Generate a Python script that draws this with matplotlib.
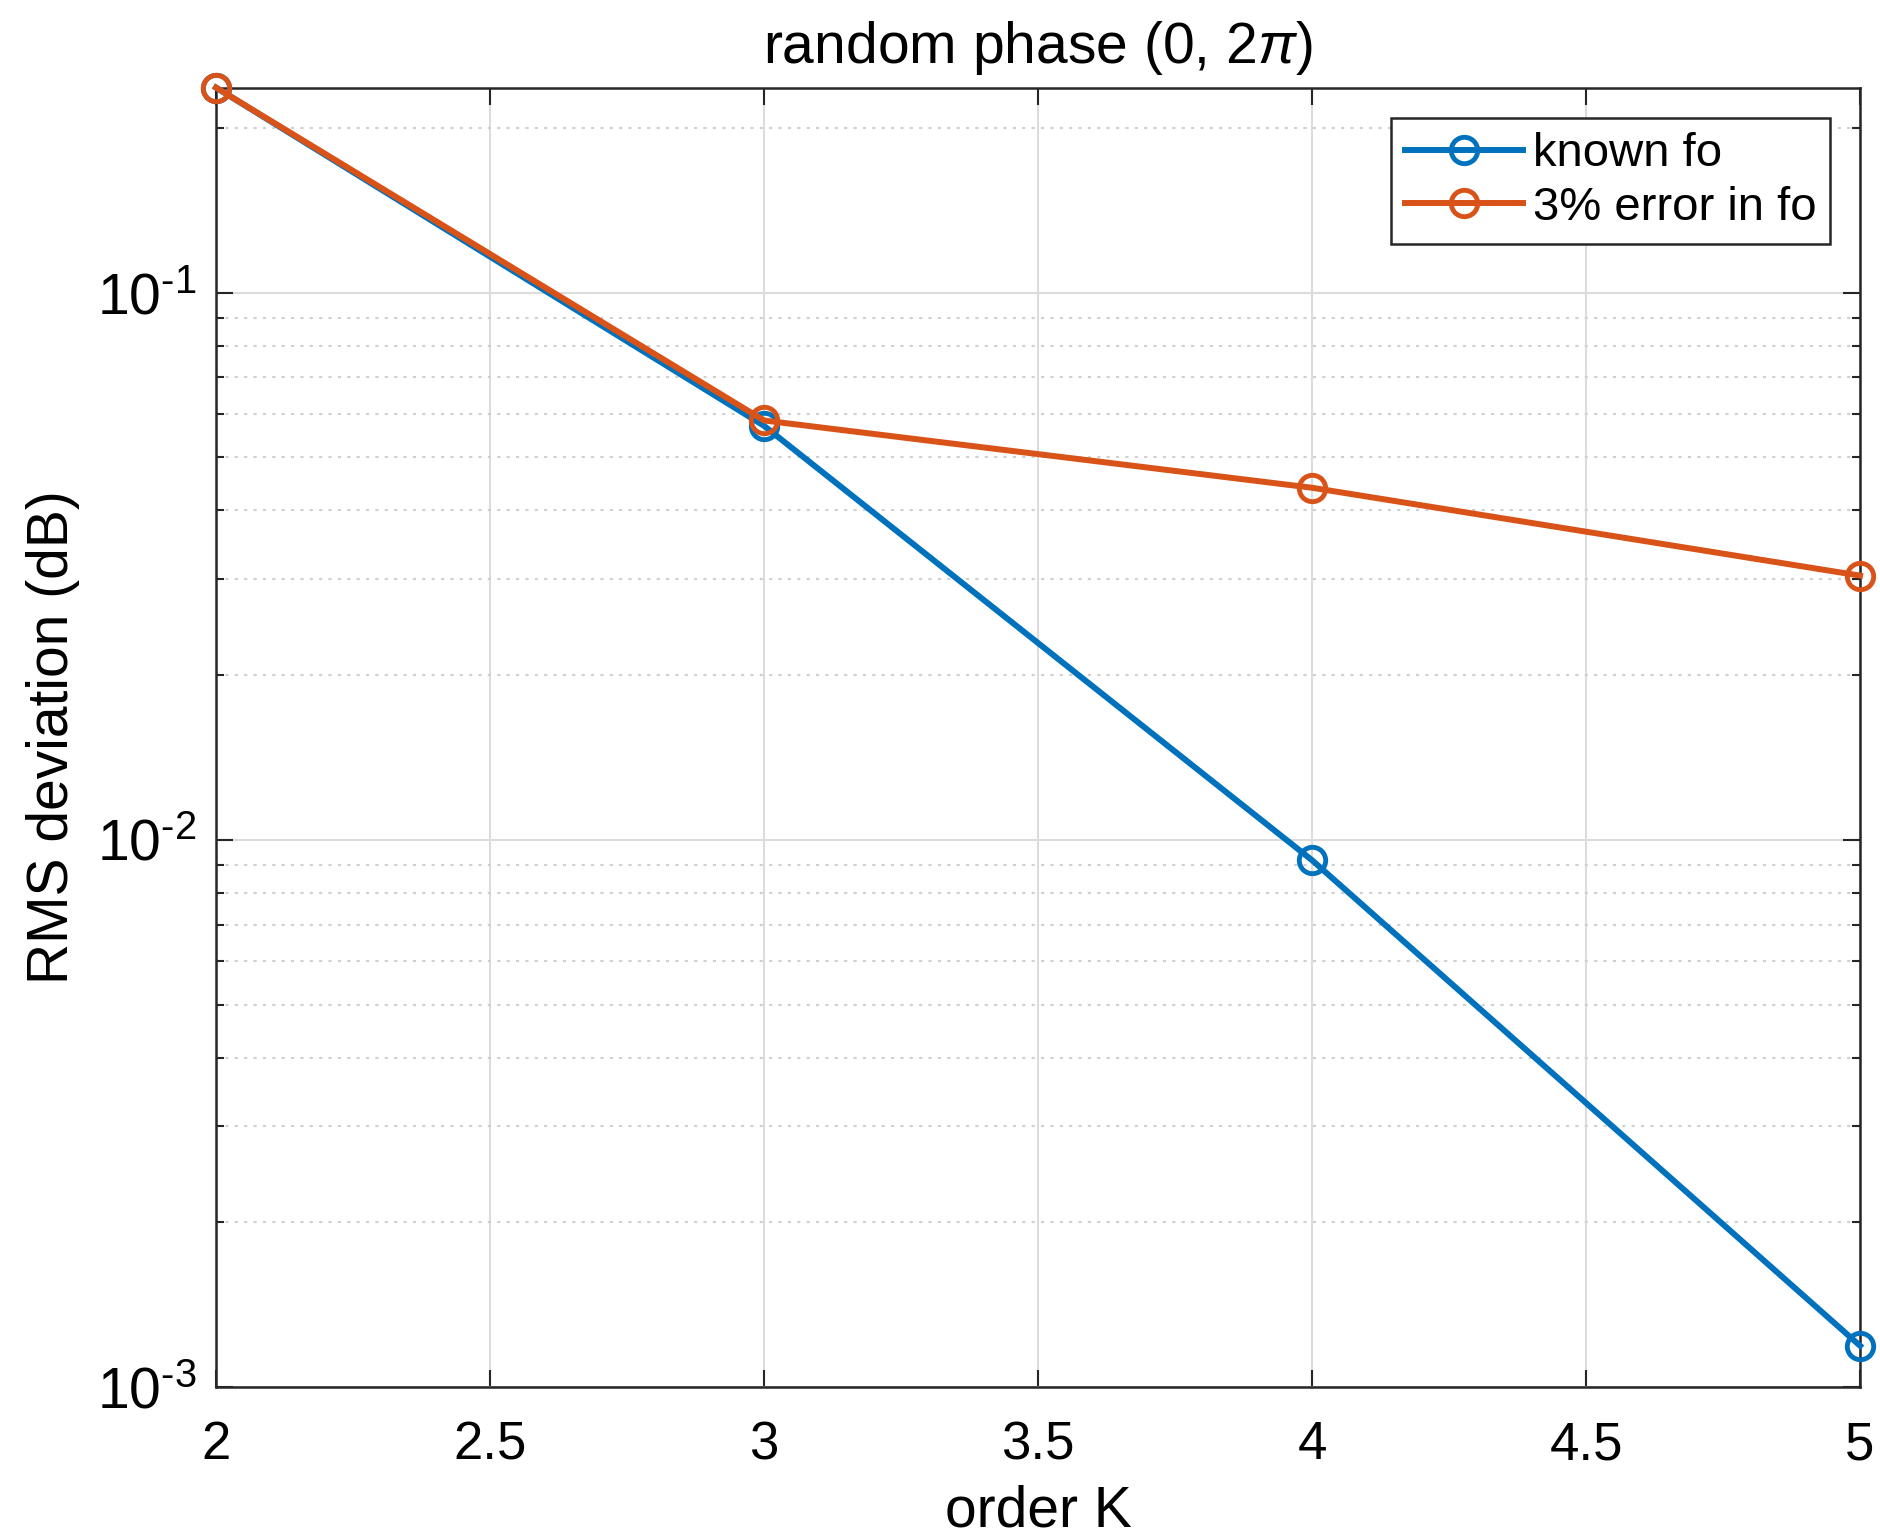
import numpy as np
import matplotlib
matplotlib.use('Agg')
import matplotlib.pyplot as plt
from matplotlib.ticker import LogLocator, MultipleLocator, NullFormatter, FuncFormatter

plt.rcParams['font.family'] = ['Liberation Sans', 'DejaVu Sans']
plt.rcParams['mathtext.fontset'] = 'custom'
plt.rcParams['mathtext.rm'] = 'Liberation Sans'
plt.rcParams['mathtext.it'] = 'Liberation Sans:italic'
plt.rcParams['axes.unicode_minus'] = False

# RMS deviation vs. model order
order_k = [2, 3, 4, 5]
known_fo = [0.237, 0.0571, 0.00918, 0.00119]
error_fo = [0.237, 0.0584, 0.0440, 0.0304]

blue = '#0072BD'
orange = '#D95319'


def pow10(v, pos):
    e = int(round(np.log10(v)))
    return r'$\mathregular{10^{\text{%d}}}$' % e


fig = plt.figure(figsize=(18.8, 15.39), dpi=100)
ax = fig.add_axes([0.1149, 0.0987, 0.8745, 0.8444])

ax.plot(order_k, known_fo, '-o', color=blue, lw=4.3, ms=19, mfc='none', mew=3.5,
        label='known fo', clip_on=False, zorder=3)
ax.plot(order_k, error_fo, '-o', color=orange, lw=4.3, ms=19, mfc='none', mew=3.5,
        label='3% error in fo', clip_on=False, zorder=4)

ax.set_yscale('log')
ax.set_xlim(2, 5)
ax.set_ylim(1e-3, 0.237)
ax.xaxis.set_major_locator(MultipleLocator(0.5))
ax.xaxis.set_major_formatter(FuncFormatter(lambda v, p: '%g' % v))
ax.yaxis.set_major_locator(LogLocator(base=10, numticks=10))
ax.yaxis.set_major_formatter(FuncFormatter(pow10))
ax.yaxis.set_minor_locator(LogLocator(base=10, subs=np.arange(2, 10), numticks=20))
ax.yaxis.set_minor_formatter(NullFormatter())

ax.grid(True, which='major', color='#dcdcdc', lw=1.5, ls='-')
ax.grid(True, which='minor', axis='y', color='#d0d0d0', lw=1.5, ls=(0, (1.5, 3)))
ax.set_axisbelow(True)

ax.tick_params(which='both', direction='in', top=True, right=True,
               width=1.5, color='#262626')
ax.tick_params(axis='x', pad=24, labelsize=38)
ax.tick_params(axis='y', pad=14, labelsize=41)
ax.tick_params(which='major', length=12)
ax.tick_params(which='minor', length=6)
for s in ax.spines.values():
    s.set_linewidth(1.8)
    s.set_color('#262626')

ax.set_xlabel('order K', fontsize=41, labelpad=10)
ax.set_ylabel('RMS deviation (dB)', fontsize=41, labelpad=12)
ax.set_title(r'random phase (0, 2$\it{\pi}$)', fontsize=41, pad=18)

leg = ax.legend(loc='upper right', bbox_to_anchor=(0.982, 0.9765), fontsize=34,
                frameon=True, fancybox=False, edgecolor='#262626', framealpha=1,
                handlelength=2.5, borderpad=0.3, labelspacing=0.2, handletextpad=0.2,
                borderaxespad=0)
leg.get_frame().set_linewidth(1.8)

fig.savefig('out.png', dpi=100)
